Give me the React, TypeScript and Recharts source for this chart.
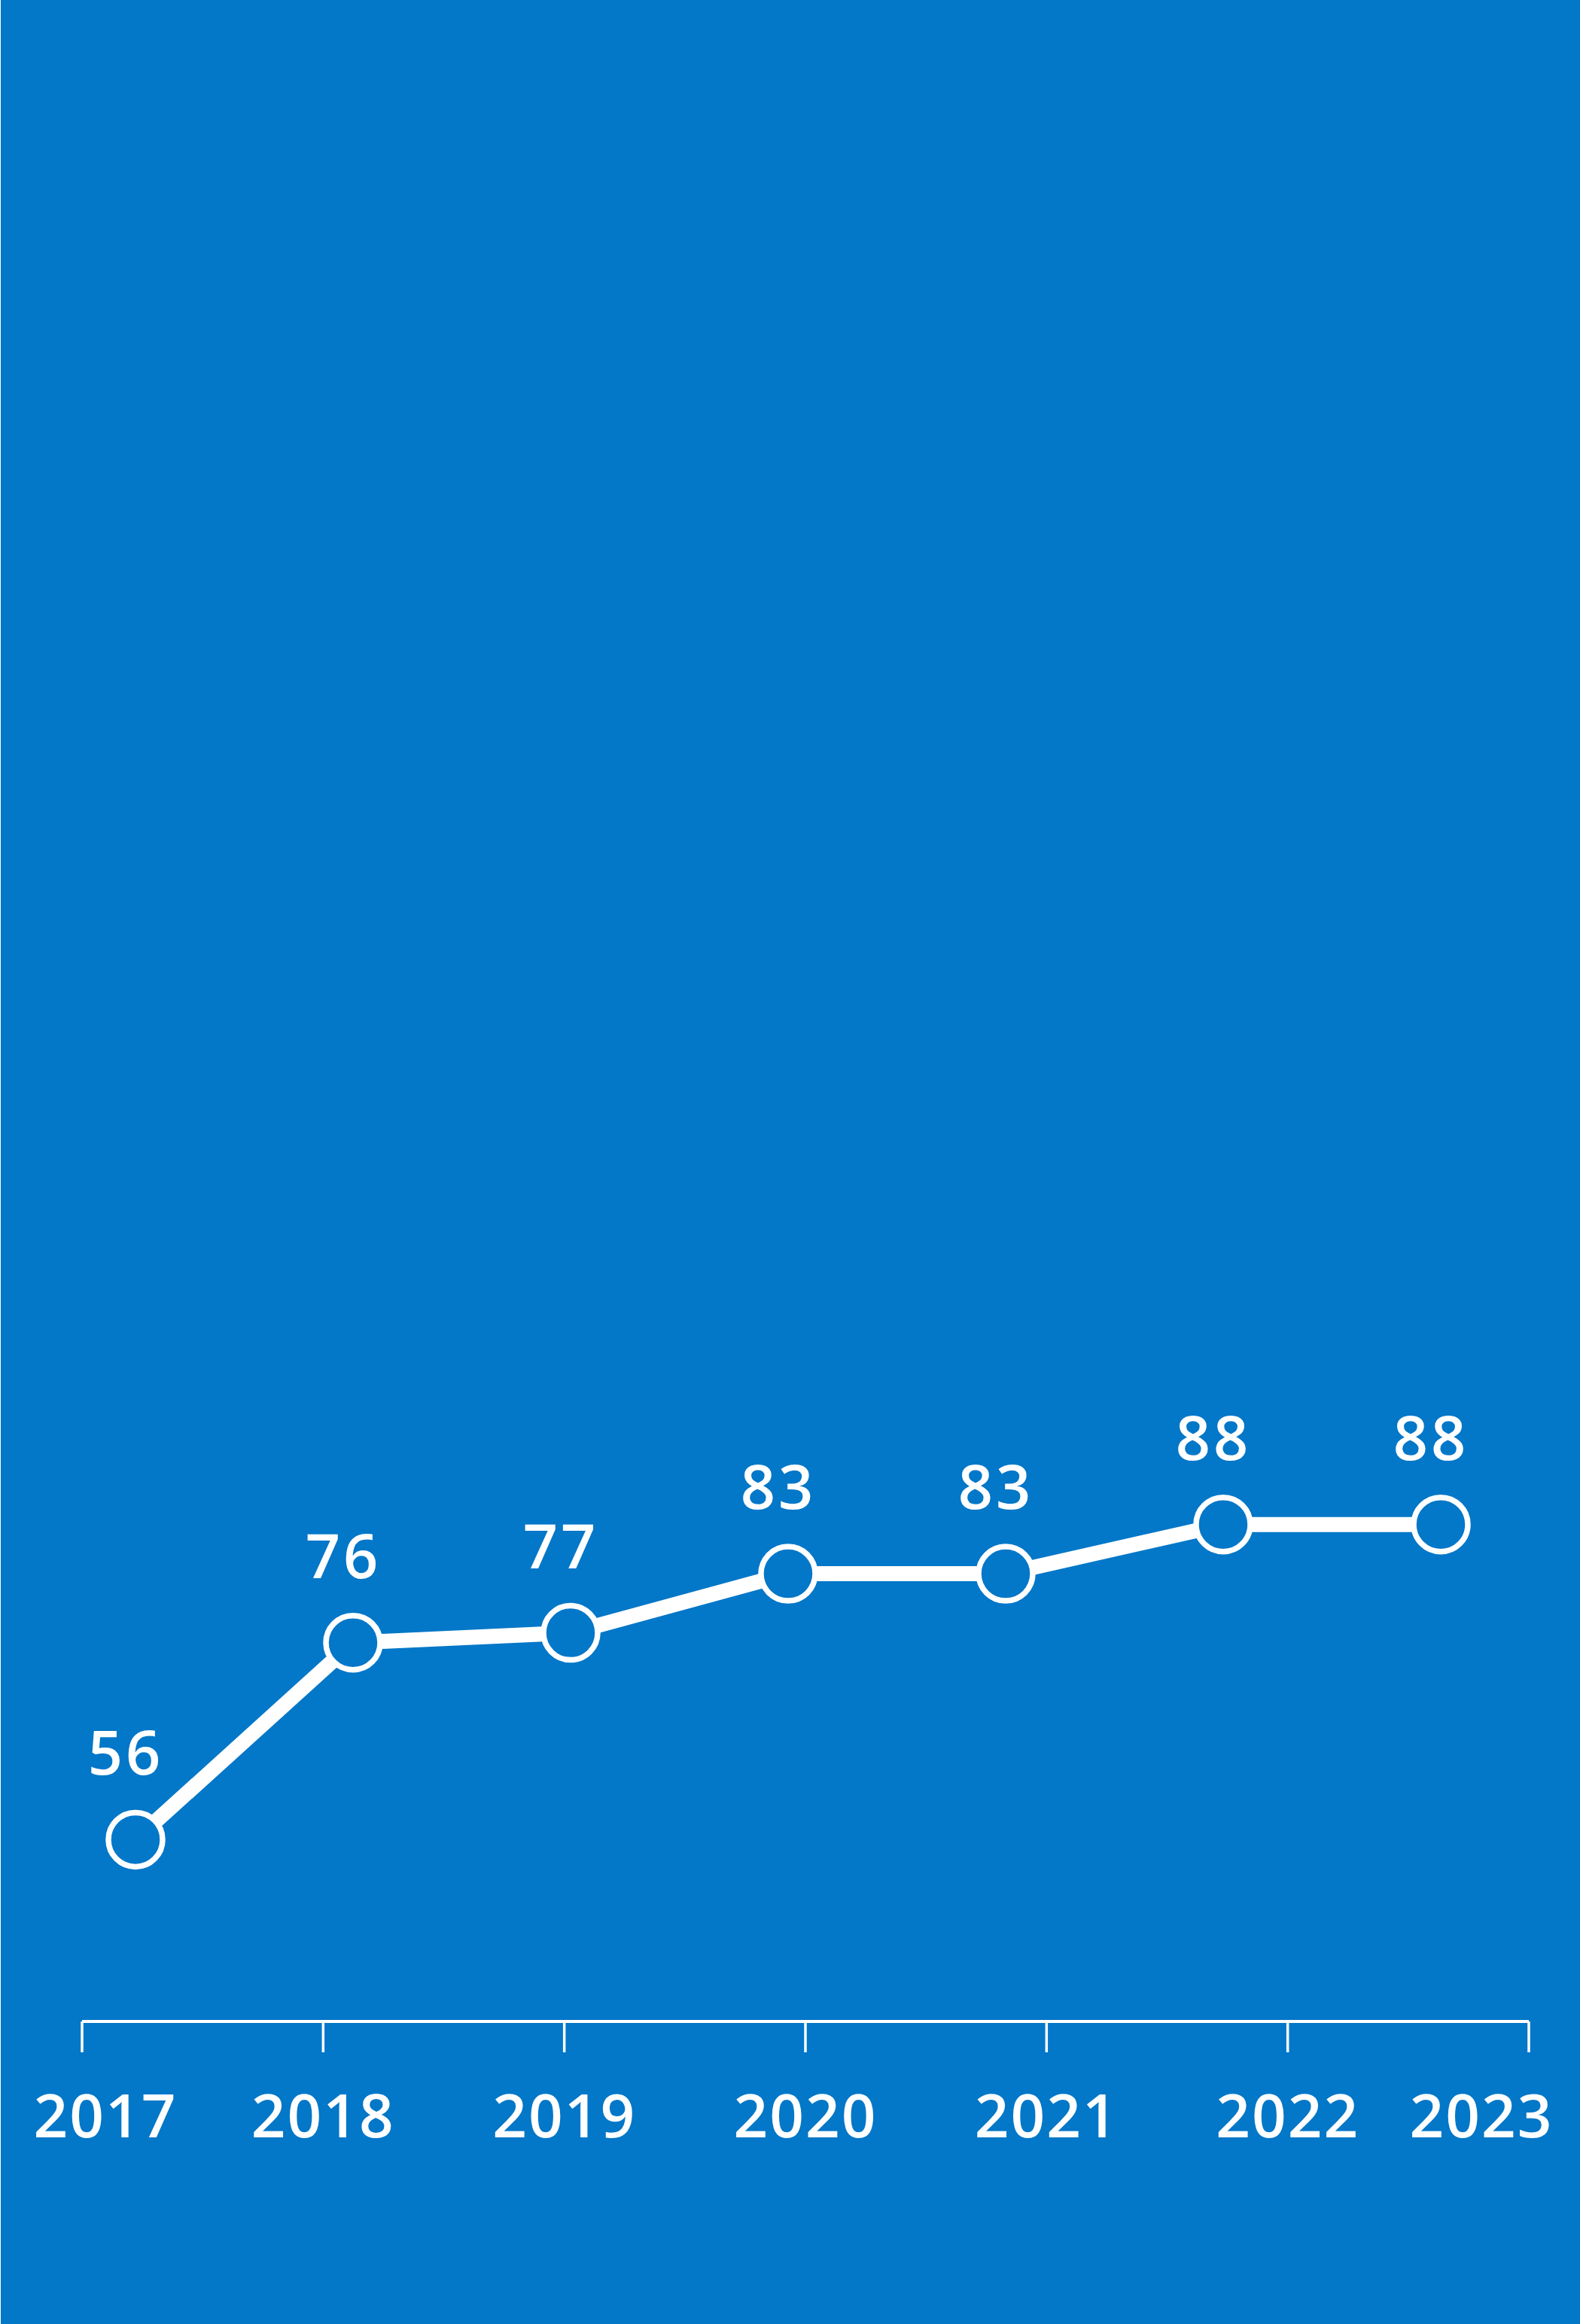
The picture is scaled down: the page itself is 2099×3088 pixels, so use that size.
import React from 'react';
import { LineChart, Line, XAxis, YAxis, LabelList } from 'recharts';

const years = [2017, 2018, 2019, 2020, 2021, 2022, 2023];
const values = [56, 76, 77, 83, 83, 88, 88];
const yearLabels = ['2017', '2018', '2019', '2020', '2021', '2022', '2023'];

const data = years.map((year, i) => ({ year, value: values[i] }));

const BG = '#0377C8';
const WHITE = '#FFFFFF';

const AxisTick = (props: any) => {
  const { x, y, payload } = props;
  const idx = years.indexOf(payload.value);
  let shift = 0;
  if (idx === 0) shift = 31;
  if (idx === years.length - 1) shift = -63;
  return (
    <text
      x={x + shift}
      y={y}
      dy={113}
      textAnchor="middle"
      fill={WHITE}
      fontFamily="'Open Sans', sans-serif"
      fontWeight={600}
      fontSize={80}
      letterSpacing={2}
    >
      {idx >= 0 ? yearLabels[idx] : payload.value}
    </text>
  );
};

const renderValueLabel = (props: any) => {
  const { x, y, value } = props;
  return (
    <text
      x={x - 13}
      y={y - 86}
      textAnchor="middle"
      fill={WHITE}
      fontFamily="'Open Sans', sans-serif"
      fontWeight={600}
      fontSize={81}
      letterSpacing={4}
    >
      {value}
    </text>
  );
};

export default function App() {
  return (
    <div style={{ position: 'absolute', left: 0, top: 0, width: 2099, height: 3088, background: WHITE }}>
      <div style={{ position: 'absolute', left: 1, top: 0, width: 2098, height: 3088, background: BG }}>
        <LineChart
          width={2098}
          height={3088}
          data={data}
          margin={{ top: 0, right: 68, left: 108, bottom: 0 }}
        >
          <XAxis
            xAxisId="line"
            dataKey="year"
            type="number"
            domain={[2017, 2023]}
            hide
            padding={{ left: 71, right: 117 }}
          />
          <XAxis
            xAxisId="axis"
            dataKey="year"
            type="number"
            domain={[2017, 2023]}
            ticks={years}
            interval={0}
            height={402}
            axisLine={{ stroke: WHITE, strokeWidth: 4 }}
            tickLine={{ stroke: WHITE, strokeWidth: 3.5 }}
            tickSize={41}
            tickMargin={0}
            tick={<AxisTick />}
          />
          <YAxis hide width={0} domain={[37.54, 242.79]} />
          <Line
            xAxisId="line"
            type="linear"
            dataKey="value"
            stroke={WHITE}
            strokeWidth={20}
            isAnimationActive={false}
            dot={{ r: 36, fill: BG, stroke: WHITE, strokeWidth: 7.5 }}
            activeDot={false}
          >
            <LabelList dataKey="value" content={renderValueLabel} />
          </Line>
        </LineChart>
      </div>
    </div>
  );
}
